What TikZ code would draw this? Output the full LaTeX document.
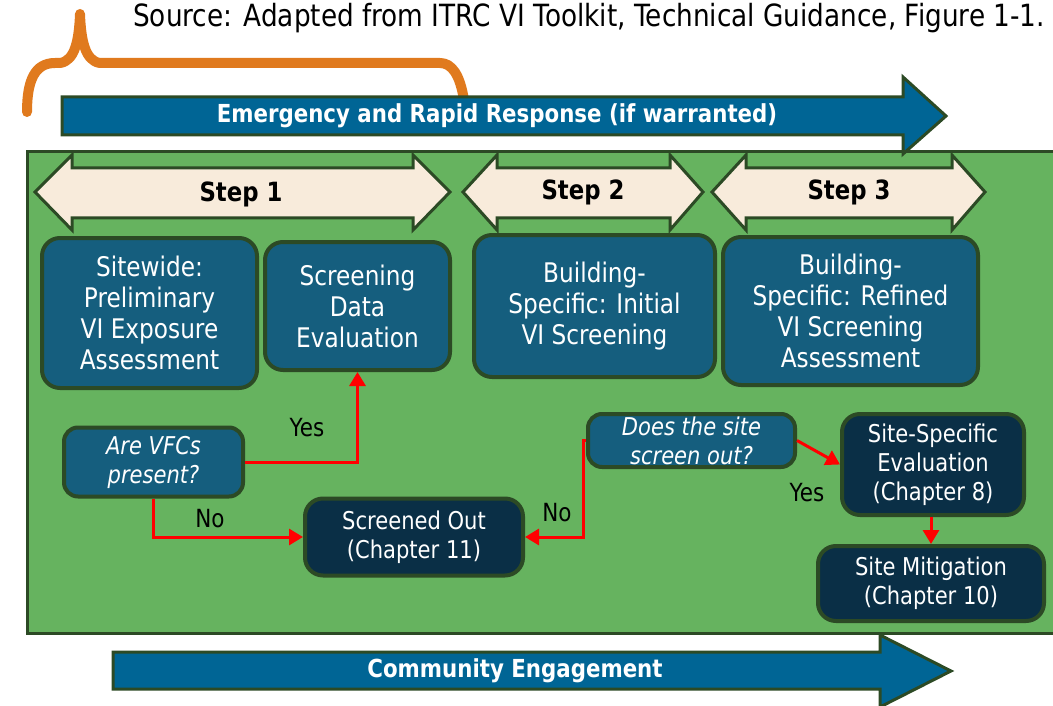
\documentclass[tikz,border=0pt]{standalone}
\usepackage{fontspec}
\setmainfont{DejaVu Sans}[FakeStretch=0.86]
\usetikzlibrary{arrows.meta,calc}
\definecolor{arrblue}{HTML}{006595}
\definecolor{boxblue}{HTML}{155E7E}
\definecolor{navy}{HTML}{0A2F46}
\definecolor{bggreen}{HTML}{66B35F}
\definecolor{dkgreen}{HTML}{2C4A25}
\definecolor{cream}{HTML}{F8EBDB}
\definecolor{orng}{HTML}{E07A1E}
\definecolor{redline}{HTML}{FF0000}
\tikzset{
  bluebox/.style={draw=dkgreen, line width=4pt, rounded corners=18pt, fill=boxblue, text=white,
    align=center, inner sep=0pt, font=\fontsize{27}{31}\selectfont},
  navybox/.style={bluebox, fill=navy, font=\fontsize{24.5}{29}\selectfont},
  askbox/.style={bluebox, rounded corners=14pt, font=\itshape\fontsize{24.5}{29}\selectfont},
  bigarrow/.style={draw=dkgreen, line width=3pt, fill=arrblue, line join=miter},
  steparrow/.style={draw=dkgreen, line width=3pt, fill=cream, line join=miter},
  arrowtext/.style={text=white, font=\bfseries\fontsize{24.8}{28}\selectfont},
  steptext/.style={text=black, font=\bfseries\fontsize{26.5}{30}\selectfont},
  flow/.style={draw=redline, line width=3pt, -{Triangle[length=14pt,width=16pt]}},
  lbl/.style={text=black, font=\fontsize{25}{29}\selectfont, inner sep=0pt}
}
\begin{document}
\begin{tikzpicture}[x=1pt,y=-1pt]
\useasboundingbox (0,0) rectangle (1053,706);
\begin{scope}
\clip (0,0) rectangle (1053,706);
% source
\node[anchor=base west, inner sep=0pt, font=\fontsize{30.6}{34}\selectfont] (src) at (133,27)
  {Source: Adapted from ITRC VI Toolkit, Technical Guidance, Figure 1-1.};
% orange brace
\draw[orng, line width=10pt, line cap=round, line join=round]
  (27,112) .. controls (27,80) and (35,63) .. (55,63) -- (60,63)
  .. controls (75,61) and (79,40) .. (80,14)
  .. controls (81,40) and (85,61) .. (100,63) -- (440,63)
  .. controls (452,63) and (460,75) .. (464,100);
% green background
\draw[fill=bggreen, draw=dkgreen, line width=3pt] (27,152) rectangle (1070,633);
% emergency arrow
\draw[bigarrow] (62,97) -- (903,97) -- (903,77) -- (946,116) -- (903,154) -- (903,135) -- (62,135) -- cycle;
\node[arrowtext] (emerg) at (497,116) {Emergency and Rapid Response (if warranted)};
% community arrow
\draw[bigarrow] (113,652) -- (880,652) -- (880,635) -- (951,671) -- (880,707) -- (880,689) -- (113,689) -- cycle;
\node[arrowtext] (comm) at (515,671) {Community Engagement};
% step arrows
\draw[steparrow] (35,192) -- (72,155) -- (72,168) -- (413,168) -- (413,155) -- (450,192) -- (413,230) -- (413,218) -- (72,218) -- (72,230) -- cycle;
\draw[steparrow] (463,192) -- (497,155) -- (497,168) -- (670,168) -- (670,155) -- (703,192) -- (670,230) -- (670,218) -- (497,218) -- (497,230) -- cycle;
\draw[steparrow] (712,192) -- (746,155) -- (746,168) -- (952,168) -- (952,155) -- (985,192) -- (952,230) -- (952,218) -- (746,218) -- (746,230) -- cycle;
\node[steptext] (s1) at (241,194) {Step 1};
\node[steptext] (s2) at (583,192) {Step 2};
\node[steptext] (s3) at (849,192) {Step 3};
% boxes
\node[bluebox, minimum width=215pt, minimum height=150pt] (boxA) at (149.5,313) {Sitewide:\\Preliminary\\VI Exposure\\Assessment};
\node[bluebox, minimum width=185pt, minimum height=128pt] (boxB) at (357.5,306) {Screening\\Data\\Evaluation};
\node[bluebox, minimum width=241pt, minimum height=142pt] (boxC) at (594.5,306) {Building-\\Specific: Initial\\VI Screening};
\node[bluebox, minimum width=255pt, minimum height=148pt] (boxD) at (850.5,311) {Building-\\Specific: Refined\\VI Screening\\Assessment};
\node[askbox, minimum width=179pt, minimum height=69pt] (vfc) at (153.5,462) {Are VFCs\\present?};
\node[askbox, minimum width=207pt, minimum height=53pt] (site) at (691.5,440.5) {Does the site\\screen out?};
\node[navybox, minimum width=218pt, minimum height=77pt] (scr) at (414,537) {Screened Out\\(Chapter 11)};
\node[navybox, minimum width=182pt, minimum height=101pt] (sse) at (933,464.5) {Site-Specific\\Evaluation\\(Chapter 8)};
\node[navybox, minimum width=226pt, minimum height=75pt] (mit) at (931,583.5) {Site Mitigation\\(Chapter 10)};
% connectors
\draw[flow] (vfc.east) -| (boxB.south);
\draw[flow] (vfc.south) |- (scr.west);
\draw[flow] (site.west) -- ++(-3,0) |- (scr.east);
\draw[flow] (site.east) -- (sse.west);
\draw[flow] (mit.north |- sse.south) -- (mit.north);
% labels
\node[lbl] (yes1) at (307,428) {Yes};
\node[lbl] (no1) at (210,519) {No};
\node[lbl] (no2) at (557,513) {No};
\node[lbl] (yes2) at (807,493) {Yes};
\end{scope}
\end{tikzpicture}
\end{document}
